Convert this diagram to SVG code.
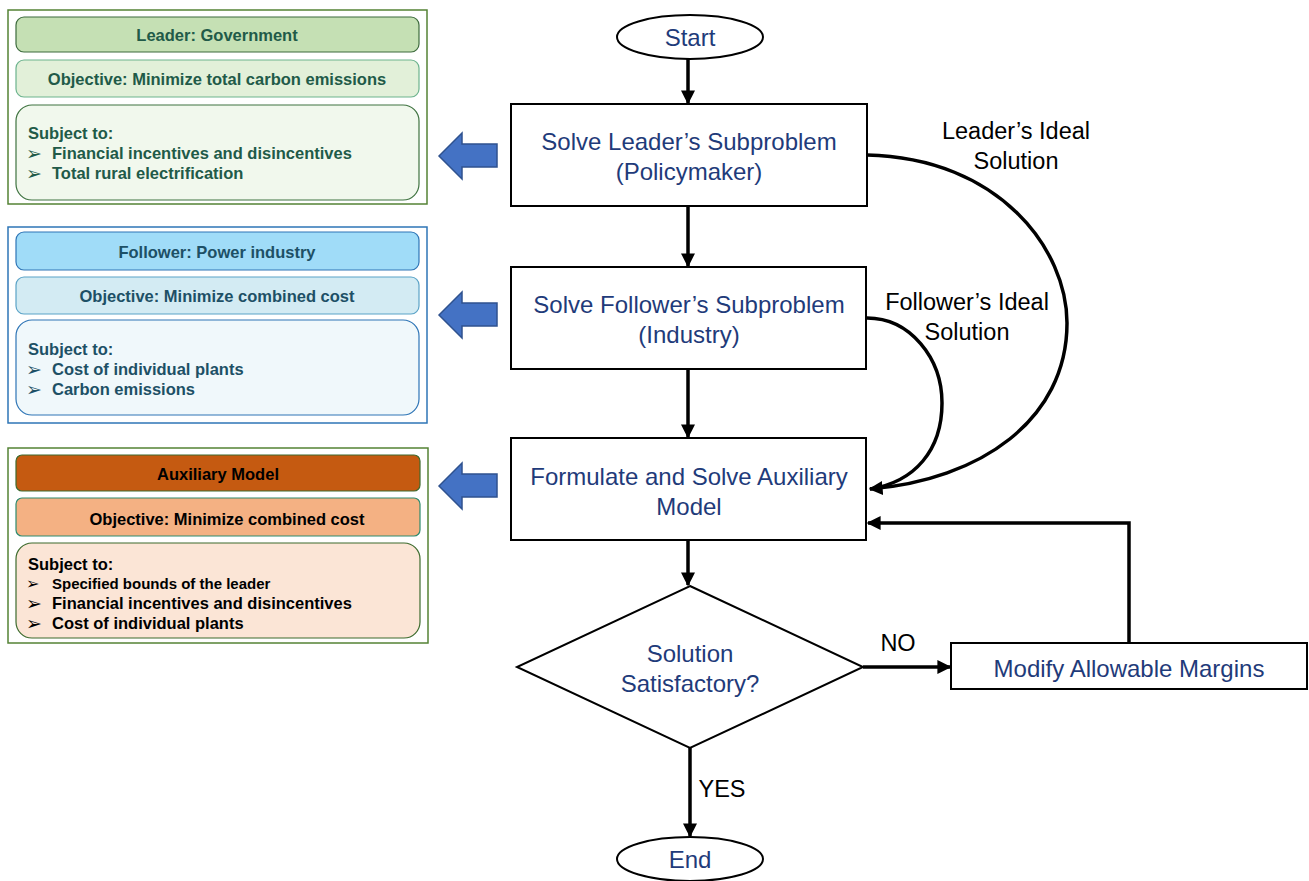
<svg xmlns="http://www.w3.org/2000/svg" width="1309" height="881" viewBox="0 0 1309 881">
<defs>
<marker id="ah" viewBox="0 0 10 10" refX="9" refY="5" markerWidth="4" markerHeight="4" orient="auto" markerUnits="strokeWidth">
<path d="M0,0 L10,5 L0,10 Z" fill="#000"/>
</marker>
<style>
.pt{font-family:"Liberation Sans",Arial,sans-serif;font-weight:bold;font-size:16.5px}
.bl{font-family:"DejaVu Sans",sans-serif;font-size:19px}
.ft{font-family:"Liberation Sans",Arial,sans-serif;font-size:24px;fill:#1f3b7a;text-anchor:middle}
.lb{font-family:"Liberation Sans",Arial,sans-serif;font-size:23.5px;fill:#000;text-anchor:middle}
.box{fill:#fff;stroke:#000;stroke-width:2}
.con{fill:none;stroke:#000;stroke-width:3.5}
.barrow{fill:#4472c4;stroke:#2f528f;stroke-width:1.5}
</style>
</defs>
<rect width="1309" height="881" fill="#fff"/>

<g id="panel-leader">
<rect x="8" y="10" width="419" height="194" fill="#fff" stroke="#548235" stroke-width="1.5"/>
<rect x="16" y="17" width="403" height="35" rx="8" fill="#c5e0b4" stroke="#3d6b3d" stroke-width="1.2"/>
<rect x="16" y="60" width="403" height="37" rx="8" fill="#e2f0d9" stroke="#6cb38e" stroke-width="1.2"/>
<rect x="16" y="105" width="403" height="95" rx="16" fill="#f1f8ed" stroke="#3f7340" stroke-width="1.2"/>
<g class="pt" fill="#215a48">
<text x="217" y="41" text-anchor="middle">Leader: Government</text>
<text x="217" y="85" text-anchor="middle">Objective: Minimize total carbon emissions</text>
<text x="28" y="139">Subject to:</text>
<text x="52" y="159">Financial incentives and disincentives</text>
<text x="52" y="179">Total rural electrification</text>
</g>
<g class="bl" fill="#215a48">
<text x="26" y="160">➢</text>
<text x="26" y="180">➢</text>
</g>
</g>

<g id="panel-follower">
<rect x="8" y="227" width="419" height="196" fill="#fff" stroke="#2e75b6" stroke-width="1.5"/>
<rect x="16" y="232" width="403" height="38" rx="8" fill="#a0dcf8" stroke="#2e75b6" stroke-width="1.2"/>
<rect x="16" y="277" width="403" height="37" rx="8" fill="#d3ebf3" stroke="#5ba3c7" stroke-width="1.2"/>
<rect x="16" y="320" width="403" height="95" rx="16" fill="#f0f8fb" stroke="#2e75b6" stroke-width="1.2"/>
<g class="pt" fill="#1d5066">
<text x="217" y="258" text-anchor="middle">Follower: Power industry</text>
<text x="217" y="302" text-anchor="middle">Objective: Minimize combined cost</text>
<text x="28" y="355">Subject to:</text>
<text x="52" y="375">Cost of individual plants</text>
<text x="52" y="395">Carbon emissions</text>
</g>
<g class="bl" fill="#1d5066">
<text x="26" y="376">➢</text>
<text x="26" y="396">➢</text>
</g>
</g>

<g id="panel-auxiliary">
<rect x="8" y="448" width="420" height="195" fill="#fff" stroke="#548235" stroke-width="1.5"/>
<rect x="16" y="455" width="404" height="36" rx="6" fill="#c55a11" stroke="#3e6a2e" stroke-width="1.2"/>
<rect x="16" y="498" width="404" height="38" rx="6" fill="#f4b183" stroke="#2e8b6e" stroke-width="1.2"/>
<rect x="16" y="543" width="404" height="95" rx="16" fill="#fbe5d6" stroke="#3d6b2d" stroke-width="1.2"/>
<g class="pt" fill="#000">
<text x="218" y="480" text-anchor="middle">Auxiliary  Model</text>
<text x="227" y="525" text-anchor="middle">Objective:  Minimize  combined  cost</text>
<text x="28" y="570">Subject to:</text>
<text x="52" y="589" font-size="15">Specified bounds of the leader</text>
<text x="52" y="609">Financial  incentives  and disincentives</text>
<text x="52" y="629">Cost of individual  plants</text>
</g>
<g class="bl" fill="#000">
<text x="26" y="589" font-size="16">➢</text>
<text x="26" y="610">➢</text>
<text x="26" y="630">➢</text>
</g>
</g>

<g id="block-arrows">
<path class="barrow" d="M439,156 L462,133 L462,144 L497,144 L497,167 L462,167 L462,179 Z"/>
<path class="barrow" d="M439,315 L462,292 L462,303 L497,303 L497,326 L462,326 L462,338 Z"/>
<path class="barrow" d="M439,486 L462,463 L462,474 L497,474 L497,497 L462,497 L462,509 Z"/>
</g>

<g id="start">
<ellipse cx="690" cy="37" rx="73" ry="22" class="box"/>
<text x="690" y="46" class="ft">Start</text>
</g>
<g id="solve-leader">
<rect x="511" y="104" width="356" height="102" class="box"/>
<text x="689" y="150" class="ft">Solve  Leader’s Subproblem</text>
<text x="689" y="180" class="ft">(Policymaker)</text>
</g>
<g id="solve-follower">
<rect x="511" y="267" width="355" height="102" class="box"/>
<text x="689" y="313" class="ft">Solve  Follower’s Subproblem</text>
<text x="689" y="343" class="ft">(Industry)</text>
</g>
<g id="auxiliary">
<rect x="511" y="438" width="355" height="102" class="box"/>
<text x="689" y="485" class="ft">Formulate and Solve Auxiliary</text>
<text x="689" y="515" class="ft">Model</text>
</g>
<g id="decision">
<polygon points="690,586 863,667 690,748 517,667" class="box"/>
<text x="690" y="662" class="ft">Solution</text>
<text x="690" y="692" class="ft">Satisfactory?</text>
</g>
<g id="modify">
<rect x="951" y="643" width="356" height="46" class="box"/>
<text x="1129" y="677" class="ft">Modify Allowable  Margins</text>
</g>
<g id="end">
<ellipse cx="690" cy="859" rx="73" ry="22" class="box"/>
<text x="690" y="868" class="ft">End</text>
</g>

<g id="connectors">
<line x1="688" y1="59" x2="688" y2="103" class="con" marker-end="url(#ah)"/>
<line x1="688" y1="206" x2="688" y2="266" class="con" marker-end="url(#ah)"/>
<line x1="688" y1="369" x2="688" y2="437" class="con" marker-end="url(#ah)"/>
<line x1="688" y1="540" x2="688" y2="585" class="con" marker-end="url(#ah)"/>
<line x1="863" y1="667" x2="950" y2="667" class="con" stroke-width="4.5" marker-end="url(#ah)"/>
<line x1="690" y1="748" x2="690" y2="836" class="con" marker-end="url(#ah)"/>
<polyline points="1129,643 1129,523 868,523" class="con" marker-end="url(#ah)"/>
<path d="M867,155 C1000,158 1067,250 1067,323 C1067,420 980,480 870,489" class="con" marker-end="url(#ah)"/>
<path d="M867,318 C910,318 942,358 942,403 C942,450 915,482 870,489" class="con"/>
<text x="1016" y="139" class="lb">Leader’s Ideal</text>
<text x="1016" y="169" class="lb">Solution</text>
<text x="967" y="310" class="lb">Follower’s  Ideal</text>
<text x="967" y="340" class="lb">Solution</text>
<text x="898" y="651" class="lb">NO</text>
<text x="722" y="797" class="lb">YES</text>
</g>
</svg>
